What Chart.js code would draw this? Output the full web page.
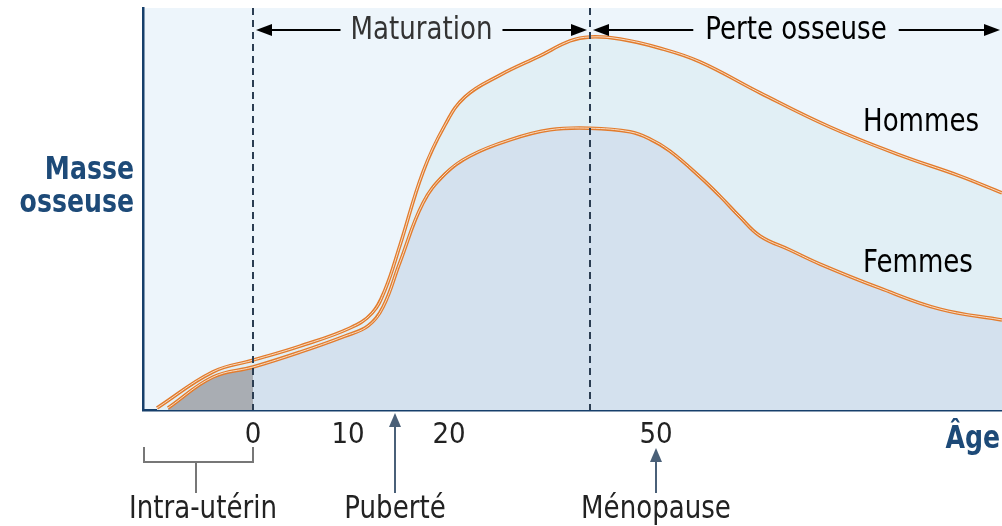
<!DOCTYPE html>
<html>
<head>
<meta charset="utf-8">
<script src="https://cdn.jsdelivr.net/npm/chart.js@4"></script>
<style>
  html, body { margin: 0; padding: 0; background: #fff; }
  #wrap { width: 1002px; height: 526px; }
</style>
</head>
<body>
<div id="wrap"><canvas id="chart"></canvas></div>
<script>
const FONT = '"DejaVu Sans Condensed", "Liberation Sans Narrow", "DejaVu Sans", sans-serif';

// schematic age axis (not linear in the original drawing)
const tickPos = [0, 9.5, 19.6, 40.3];
const tickLabels = ['0', '10', '20', '50'];
const xMin = -11, xMax = 74.9;

const hommesX = [-9.6, -4.0, 0, 4.7, 9.7, 11.9, 13.2, 14.7, 17.0, 19.2, 21.2, 24.7, 28.7, 31.7, 33.7, 36.7, 40.7, 44.7, 50.7, 57.7, 64.7, 70.7, 74.9];
const hommesY = [0.5, 9.5, 12.4, 15.9, 20.4, 24.1, 29.9, 41.0, 59.2, 70.9, 77.9, 83.3, 88.1, 91.8, 92.8, 92.3, 90.0, 86.6, 78.9, 70.4, 63.4, 58.2, 54.0];

const femmesX = [-8.5, -4.0, 0, 4.7, 9.2, 11.5, 13.0, 14.7, 17.0, 19.2, 21.7, 25.7, 29.7, 33.7, 37.7, 39.7, 41.7, 44.7, 46.7, 48.7, 50.7, 53.7, 56.7, 62.7, 68.7, 74.9];
const femmesY = [0.5, 8.2, 10.7, 14.4, 18.4, 20.9, 25.6, 36.8, 51.5, 58.7, 63.2, 67.2, 69.7, 70.1, 69.2, 67.4, 64.4, 58.0, 53.2, 48.0, 43.3, 39.8, 36.3, 30.3, 25.1, 22.4];

const maturationAge = 0;
const menopauseLine = 33.7;
const pubertyAge = 14.2;
const menopauseAge = 40.3;

const hommes = hommesX.map((x, i) => ({x: x, y: hommesY[i]}));
const femmes = femmesX.map((x, i) => ({x: x, y: femmesY[i]}));
const intraUterin = femmes.filter(p => p.x <= 0);

// the original lettering is a little taller than wide
function text(ctx, str, x, y) {
    ctx.save();
    ctx.translate(x, y);
    ctx.scale(1, 1.12);
    ctx.fillText(str, 0, 0);
    ctx.restore();
}

function arrow(ctx, x1, x2, y, color) {
    const dir = x2 > x1 ? 1 : -1;
    ctx.strokeStyle = color;
    ctx.fillStyle = color;
    ctx.lineWidth = 2;
    ctx.beginPath();
    ctx.moveTo(x1, y);
    ctx.lineTo(x2 - dir * 10, y);
    ctx.stroke();
    ctx.beginPath();
    ctx.moveTo(x2, y);
    ctx.lineTo(x2 - dir * 16, y - 6);
    ctx.lineTo(x2 - dir * 16, y + 6);
    ctx.closePath();
    ctx.fill();
}

function upArrow(ctx, x, yTop, yBottom, color) {
    ctx.strokeStyle = color;
    ctx.fillStyle = color;
    ctx.lineWidth = 2;
    ctx.beginPath();
    ctx.moveTo(x, yBottom);
    ctx.lineTo(x, yTop + 8);
    ctx.stroke();
    ctx.beginPath();
    ctx.moveTo(x, yTop);
    ctx.lineTo(x - 6, yTop + 14);
    ctx.lineTo(x + 6, yTop + 14);
    ctx.closePath();
    ctx.fill();
}

const decor = {
    id: 'decor',
    beforeDraw(chart) {
        const {ctx, chartArea: a} = chart;
        ctx.save();
        ctx.fillStyle = '#edf5fb';
        ctx.fillRect(a.left, a.top, a.right - a.left, a.bottom - a.top);
        ctx.restore();
    },
    afterDatasetsDraw(chart) {
        const {ctx, chartArea: a, scales: {x, y}} = chart;
        ctx.save();

        // dashed phase lines
        ctx.strokeStyle = '#2b3d52';
        ctx.lineWidth = 2;
        ctx.setLineDash([7, 5]);
        [maturationAge, menopauseLine].forEach(v => {
            const px = Math.round(x.getPixelForValue(v));
            ctx.beginPath();
            ctx.moveTo(px, a.top);
            ctx.lineTo(px, a.bottom);
            ctx.stroke();
        });
        ctx.setLineDash([]);

        // phase headers
        const yHead = y.getPixelForValue(94.5);
        const x0 = x.getPixelForValue(maturationAge);
        const x1 = x.getPixelForValue(menopauseLine);
        ctx.font = '29px ' + FONT;
        ctx.textAlign = 'center';
        ctx.textBaseline = 'middle';
        ctx.fillStyle = '#333';
        const c1 = (x0 + x1) / 2, w1 = ctx.measureText('Maturation').width;
        text(ctx, 'Maturation', c1, yHead);
        arrow(ctx, c1 - w1 / 2 - 10, x0 + 3, yHead, '#000');
        arrow(ctx, c1 + w1 / 2 + 10, x1 - 3, yHead, '#000');
        const c2 = (x1 + a.right) / 2, w2 = ctx.measureText('Perte osseuse').width;
        text(ctx, 'Perte osseuse', c2, yHead);
        arrow(ctx, c2 - w2 / 2 - 12, x1 + 3, yHead, '#000');
        arrow(ctx, c2 + w2 / 2 + 12, a.right - 2, yHead, '#000');

        // curve names
        ctx.textAlign = 'left';
        text(ctx, 'Hommes', x.getPixelForValue(61), y.getPixelForValue(71.6));
        text(ctx, 'Femmes', x.getPixelForValue(61), y.getPixelForValue(36.5));

        // y axis label
        ctx.font = 'bold 28px ' + FONT;
        ctx.fillStyle = '#1d4a78';
        ctx.textAlign = 'right';
        text(ctx, 'Masse', a.left - 9, y.getPixelForValue(59.5));
        text(ctx, 'osseuse', a.left - 9, y.getPixelForValue(51.3));
        text(ctx, 'Âge', a.right - 2, a.bottom + 30);

        // bottom annotations
        const b = a.bottom;
        ctx.strokeStyle = '#777';
        ctx.lineWidth = 2;
        ctx.beginPath();
        ctx.moveTo(a.left + 1, b + 37);
        ctx.lineTo(a.left + 1, b + 52);
        ctx.lineTo(x0, b + 52);
        ctx.lineTo(x0, b + 37);
        ctx.moveTo(196, b + 52);
        ctx.lineTo(196, b + 83);
        ctx.stroke();

        const xp = x.getPixelForValue(pubertyAge);
        const xm = x.getPixelForValue(menopauseAge);
        upArrow(ctx, xp, b + 3, b + 83, '#4a6078');
        upArrow(ctx, xm, b + 38, b + 83, '#4a6078');

        ctx.font = '29px ' + FONT;
        ctx.fillStyle = '#222';
        ctx.textAlign = 'center';
        text(ctx, 'Intra-utérin', 203, b + 100);
        text(ctx, 'Puberté', xp, b + 100);
        text(ctx, 'Ménopause', xm, b + 100);
        ctx.restore();
    }
};

const ORANGE = '#e27b2c';
const INNER = '#f7dcc4';
const base = {
    showLine: true,
    pointRadius: 0,
    tension: 0.4
};

new Chart(document.getElementById('chart'), {
    type: 'scatter',
    data: {
        datasets: [
            {...base, label: 'Hommes (inner)', data: hommes, borderColor: INNER, borderWidth: 1, fill: false, order: 1},
            {...base, label: 'Femmes (inner)', data: femmes, borderColor: INNER, borderWidth: 1, fill: false, order: 1},
            {...base, label: 'Hommes', data: hommes, borderColor: ORANGE, borderWidth: 3.5, fill: false, order: 2},
            {...base, label: 'Femmes', data: femmes, borderColor: ORANGE, borderWidth: 3.5, fill: false, order: 2},
            {...base, label: 'Intra-utérin', data: intraUterin, borderWidth: 0, borderColor: 'transparent', backgroundColor: '#a9adb3', fill: 'origin', order: 3},
            {...base, label: 'Femmes zone', data: femmes, borderWidth: 0, borderColor: 'transparent', backgroundColor: '#d4e1ee', fill: 'origin', order: 4},
            {...base, label: 'Hommes zone', data: hommes, borderWidth: 0, borderColor: 'transparent', backgroundColor: '#e1eff5', fill: 'origin', order: 5}
        ]
    },
    options: {
        responsive: true,
        maintainAspectRatio: false,
        animation: false,
        layout: { padding: { top: 8, right: 0, left: 0, bottom: 0 } },
        plugins: {
            legend: { display: false },
            tooltip: { enabled: false }
        },
        scales: {
            x: {
                type: 'linear',
                min: xMin,
                max: xMax,
                afterFit: scale => { scale.height = 116; },
                afterBuildTicks: scale => { scale.ticks = tickPos.map(v => ({value: v})); },
                grid: { display: false, drawTicks: false },
                border: { display: true, color: '#163f6b', width: 2.5 },
                ticks: {
                    autoSkip: false,
                    maxRotation: 0,
                    padding: 8,
                    color: '#222',
                    font: { family: FONT, size: 29 },
                    callback: (v, i) => tickLabels[i]
                }
            },
            y: {
                min: 0,
                max: 100,
                afterFit: scale => { scale.width = 143; },
                grid: { display: false, drawTicks: false },
                border: { display: true, color: '#163f6b', width: 2.5 },
                ticks: { display: false }
            }
        }
    },
    plugins: [decor]
});
</script>
</body>
</html>
